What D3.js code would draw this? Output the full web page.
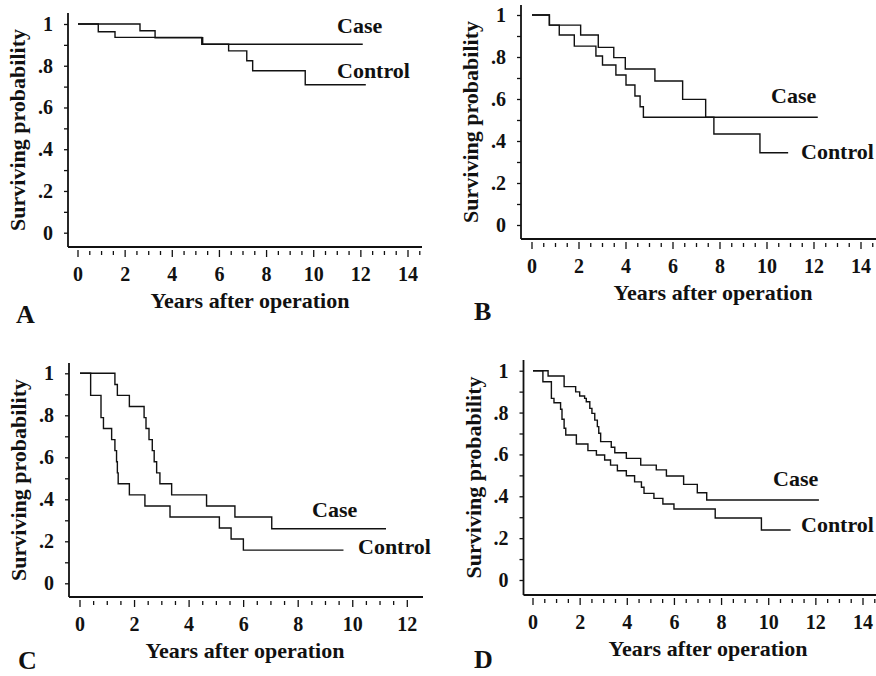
<!DOCTYPE html>
<html>
<head>
<meta charset="utf-8">
<script src="https://cdnjs.cloudflare.com/ajax/libs/d3/7.8.5/d3.min.js"></script>
<style>
body{margin:0;background:#fff;}
svg text{font-family:"Liberation Serif","Times New Roman",serif;font-weight:bold;fill:#111;}
</style>
</head>
<body>
<svg id="fig" width="876" height="676"></svg>
<script>
// Kaplan-Meier steps: times (years) and survival.
// the last point of each series is the end of follow-up (no drop)
var timeACase = [0, 2.63, 3.27, 5.29, 12.08];
var survACase = [1, 0.968, 0.934, 0.903, 0.903];
var timeACtrl = [0, 0.86, 1.57, 5.25, 6.39, 7.16, 7.41, 9.64, 12.21];
var survACtrl = [1, 0.963, 0.936, 0.903, 0.871, 0.824, 0.776, 0.709, 0.709];

var timeBCase = [0, 0.74, 2.07, 2.82, 3.48, 3.97, 5.23, 6.41, 7.39, 12.16];
var survBCase = [1, 0.952, 0.905, 0.846, 0.797, 0.743, 0.686, 0.598, 0.513, 0.513];
var timeBCtrl = [0, 0.74, 1.16, 1.8, 2.72, 3.0, 3.57, 4.0, 4.38, 4.6, 4.74, 7.74, 9.7, 10.9];
var survBCtrl = [1, 0.952, 0.905, 0.852, 0.805, 0.762, 0.714, 0.667, 0.614, 0.563, 0.513, 0.433, 0.344, 0.344];

var timeCCase = [0, 1.28, 1.37, 1.81, 2.35, 2.42, 2.53, 2.65, 2.72, 2.81, 2.93, 3.36, 4.64, 5.68, 7.03, 11.22];
var survCCase = [1, 0.947, 0.895, 0.842, 0.789, 0.737, 0.684, 0.632, 0.579, 0.526, 0.474, 0.421, 0.368, 0.316, 0.26, 0.26];
var timeCCtrl = [0, 0.39, 0.77, 0.86, 1.16, 1.28, 1.34, 1.37, 1.4, 1.81, 2.38, 3.3, 5.11, 5.54, 5.99, 9.66];
var survCCtrl = [1, 0.895, 0.789, 0.737, 0.684, 0.632, 0.579, 0.526, 0.474, 0.421, 0.368, 0.316, 0.263, 0.211, 0.158, 0.158];

var timeDCase = [0, 0.64, 1.32, 1.81, 1.98, 2.19, 2.26, 2.41, 2.5, 2.62, 2.73, 2.79, 2.87, 3.32, 3.47, 3.96, 4.57, 5.23, 5.66, 6.39, 6.97, 7.37, 12.13];
var survDCase = [1, 0.975, 0.924, 0.899, 0.879, 0.868, 0.852, 0.82, 0.796, 0.764, 0.733, 0.701, 0.661, 0.634, 0.608, 0.581, 0.549, 0.526, 0.497, 0.457, 0.417, 0.382, 0.382];
var timeDCtrl = [0, 0.42, 0.78, 0.89, 1.17, 1.23, 1.32, 1.39, 1.84, 2.33, 2.69, 3.04, 3.29, 3.58, 3.96, 4.31, 4.6, 4.71, 5.13, 5.51, 5.98, 7.73, 9.69, 10.93];
var survDCtrl = [1, 0.947, 0.868, 0.847, 0.816, 0.768, 0.725, 0.693, 0.65, 0.618, 0.597, 0.573, 0.549, 0.522, 0.498, 0.469, 0.443, 0.414, 0.39, 0.363, 0.339, 0.296, 0.239, 0.239];

var yTickValues = [0, 0.2, 0.4, 0.6, 0.8, 1];
var yTickLabels = ["0", ".2", ".4", ".6", ".8", "1"];
var xTitle = "Years after operation";
var yTitle = "Surviving probability";
var seriesNames = ["Case", "Control"];

// layout of the four panels (pixel positions only)
var panels = [
    {letter:"A", xMax:14, x0:78, x1:408, yTop:24, yBot:232.7, axX:68, axY:247, top:13, right:422,
     xt:250, lx:16, ly:[323, 33, 78], lcx:[337, 337],
     case:[timeACase, survACase], ctrl:[timeACtrl, survACtrl]},
    {letter:"B", xMax:14, x0:532, x1:861, yTop:15, yBot:225, axX:521, axY:239, top:5, right:876,
     xt:713, lx:474, ly:[320, 103, 159], lcx:[771, 801],
     case:[timeBCase, survBCase], ctrl:[timeBCtrl, survBCtrl]},
    {letter:"C", xMax:12, x0:80, x1:407.3, yTop:373.3, yBot:583.3, axX:69, axY:597, top:363, right:423,
     xt:245, lx:18, ly:[669, 517, 554], lcx:[312, 358],
     case:[timeCCase, survCCase], ctrl:[timeCCtrl, survCCtrl]},
    {letter:"D", xMax:14, x0:533, x1:863, yTop:370.7, yBot:580, axX:523.5, axY:595, top:360, right:876,
     xt:708, lx:474, ly:[668, 486, 532], lcx:[773, 801],
     case:[timeDCase, survDCase], ctrl:[timeDCtrl, survDCtrl]}
];

var svg = d3.select('#fig');

var drawPanel = function(p){
    var g = svg.append('g').attr('class','panel');
    var x = d3.scaleLinear().domain([0, p.xMax]).range([p.x0, p.x1]);
    var y = d3.scaleLinear().domain([0, 1]).range([p.yBot, p.yTop]);

    // axis lines
    g.append('line')
        .attr('x1',p.axX).attr('y1',p.top).attr('x2',p.axX).attr('y2',p.axY)
        .attr('stroke','#111').attr('stroke-width',1.8);
    g.append('line')
        .attr('x1',p.axX).attr('y1',p.axY).attr('x2',p.right).attr('y2',p.axY)
        .attr('stroke','#111').attr('stroke-width',1.8);

    // y ticks every .1, labels every .2
    var yAxis = d3.axisLeft(y).tickValues(d3.range(0, 11).map(function(i){return i/10;}))
        .tickSize(4).tickSizeOuter(0).tickFormat('');
    var ya = g.append('g').attr('transform','translate('+p.axX+',0)').call(yAxis);
    ya.select('.domain').remove();
    ya.selectAll('line').attr('stroke','#111').attr('stroke-width',1.3);
    g.selectAll('text.ylab').data(yTickValues).enter().append('text')
        .attr('class','ylab')
        .attr('x',p.axX-15).attr('y',function(d){return y(d);})
        .attr('dy','0.35em').attr('text-anchor','end')
        .attr('font-size',20)
        .text(function(d,i){return yTickLabels[i];});

    // x ticks every half year, bigger ones every 2 years
    var xmaxTick = p.xMax == 12 ? 12 : 14.5;
    var xticks = d3.range(0, xmaxTick + 0.01, 0.5);
    g.selectAll('line.xt').data(xticks).enter().append('line')
        .attr('class','xt')
        .attr('x1',function(d){return x(d);}).attr('x2',function(d){return x(d);})
        .attr('y1',function(d){return p.axY + (d%2==0 ? 3 : 4);})
        .attr('y2',function(d){return p.axY + (d%2==0 ? 10 : 8);})
        .attr('stroke','#111').attr('stroke-width',1.3);
    g.selectAll('text.xlab').data(d3.range(0, p.xMax + 1, 2)).enter().append('text')
        .attr('class','xlab')
        .attr('x',function(d){return x(d);}).attr('y',p.axY + 34)
        .attr('text-anchor','middle').attr('font-size',20)
        .text(function(d){return d;});

    // titles
    g.append('text').attr('x',p.xt).attr('y',p.axY + 61)
        .attr('text-anchor','middle').attr('font-size',22).text(xTitle);
    var ymid = (p.top + p.axY)/2;
    g.append('text')
        .attr('transform','translate('+(p.axX-43)+','+ymid+') rotate(-90)')
        .attr('text-anchor','middle').attr('font-size',22).text(yTitle);
    g.append('text').attr('x',p.lx).attr('y',p.ly[0])
        .attr('font-size',26).text(p.letter);

    // survival curves
    var line = d3.line()
        .x(function(d){return x(d[0]);})
        .y(function(d){return y(d[1]);})
        .curve(d3.curveStepAfter);
    [p.case, p.ctrl].forEach(function(s){
        var pts = s[0].map(function(t,i){return [t, s[1][i]];});
        g.append('path').attr('d',line(pts))
            .attr('fill','none').attr('stroke','#111').attr('stroke-width',1.4);
    });

    // series labels
    g.append('text').attr('x',p.lcx[0]).attr('y',p.ly[1]).attr('font-size',22).text(seriesNames[0]);
    g.append('text').attr('x',p.lcx[1]).attr('y',p.ly[2]).attr('font-size',22).text(seriesNames[1]);
};

panels.forEach(drawPanel);
</script>
</body>
</html>
